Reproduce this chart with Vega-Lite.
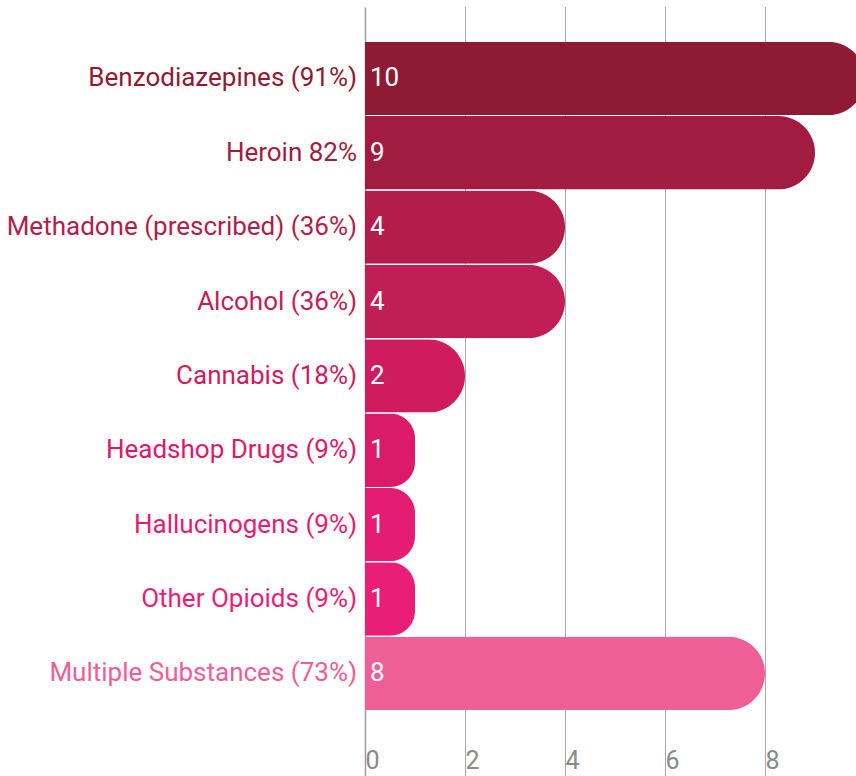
{
  "$schema": "https://vega.github.io/schema/vega-lite/v6.json",
  "width": 500,
  "height": 769,
  "autosize": {"type": "none"},
  "padding": {"left": 365, "top": 7, "right": 0, "bottom": 0},
  "background": "white",
  "config": {
    "view": {"stroke": null},
    "font": "Roboto"
  },
  "data": {
    "values": [
      {"label": "Benzodiazepines (91%)", "count": 10},
      {"label": "Heroin 82%", "count": 9},
      {"label": "Methadone (prescribed) (36%)", "count": 4},
      {"label": "Alcohol (36%)", "count": 4},
      {"label": "Cannabis (18%)", "count": 2},
      {"label": "Headshop Drugs (9%)", "count": 1},
      {"label": "Hallucinogens (9%)", "count": 1},
      {"label": "Other Opioids (9%)", "count": 1},
      {"label": "Multiple Substances (73%)", "count": 8}
    ]
  },
  "encoding": {
    "y": {
      "field": "label",
      "type": "nominal",
      "sort": null,
      "scale": {"paddingInner": 0.0134, "paddingOuter": 0.6766, "align": 0.345},
      "axis": null
    }
  },
  "layer": [
    {
      "mark": {"type": "bar", "cornerRadiusEnd": 40, "clip": false},
      "encoding": {
        "x": {
          "field": "count",
          "type": "quantitative",
          "scale": {"domain": [0, 10], "nice": false},
          "axis": {
            "values": [0, 2, 4, 6, 8],
            "title": null,
            "domain": false,
            "ticks": false,
            "grid": true,
            "gridDash": {"condition": {"test": "datum.value === 0", "value": []}, "value": [1, 1]},
            "gridColor": {"condition": {"test": "datum.value === 0", "value": "#9a9a9a"}, "value": "#555555"},
            "gridWidth": {"condition": {"test": "datum.value === 0", "value": 1.5}, "value": 1},
            "labelAlign": "left",
            "labelBaseline": "middle",
            "labelPadding": -16,
            "labelDx": 4,
            "labelFontSize": 25,
            "labelColor": "#8a8a8a",
            "labelFont": "Roboto"
          }
        },
        "color": {
          "field": "label",
          "type": "nominal",
          "sort": null,
          "legend": null,
          "scale": {
            "domain": ["Benzodiazepines (91%)", "Heroin 82%", "Methadone (prescribed) (36%)", "Alcohol (36%)", "Cannabis (18%)", "Headshop Drugs (9%)", "Hallucinogens (9%)", "Other Opioids (9%)", "Multiple Substances (73%)"],
            "range": ["#8f1a34", "#a11c40", "#b21d4c", "#c11e56", "#cf1c5f", "#db1a69", "#e51c73", "#e81e77", "#ee5e97"]
          }
        }
      }
    },
    {
      "mark": {"type": "text", "align": "right", "baseline": "middle", "dx": -8, "fontSize": 26, "font": "Roboto"},
      "encoding": {
        "x": {"datum": 0, "type": "quantitative"},
        "text": {"field": "label"},
        "color": {"field": "label", "type": "nominal", "sort": null, "legend": null}
      }
    },
    {
      "mark": {"type": "text", "align": "left", "baseline": "middle", "dx": 5, "fontSize": 26, "font": "Roboto", "color": "white"},
      "encoding": {
        "x": {"datum": 0, "type": "quantitative"},
        "text": {"field": "count", "type": "quantitative"}
      }
    }
  ]
}
